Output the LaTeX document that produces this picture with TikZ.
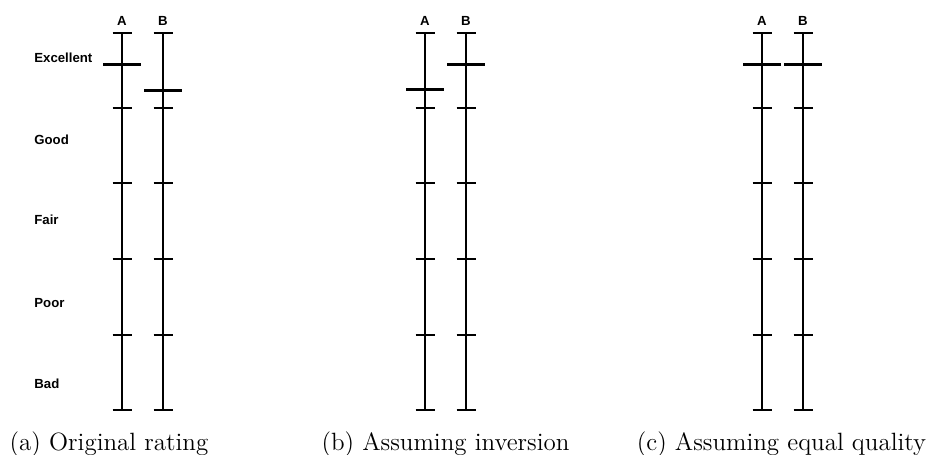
\documentclass[tikz,border=0pt]{standalone}
\usepackage{fontspec}
\newfontfamily\lab{Liberation Sans}[Scale=1]
\tikzset{
  axisline/.style={line width=1pt},
  tickline/.style={line width=0.75pt},
  markline/.style={line width=1.5pt},
  lbl/.style={font=\lab\bfseries\fontsize{6.6}{7}\selectfont, inner sep=0pt},
  captext/.style={font=\fontsize{12.5}{14}\selectfont, inner sep=0pt, anchor=base}
}
\begin{document}
\begin{tikzpicture}[x=0.5pt,y=-0.5pt]
\useasboundingbox (0,0) rectangle (928,455);
% rating labels
\node[lbl,anchor=west] (lexc) at (34,58) {Excellent};
\node[lbl,anchor=west] (lgood) at (34,140) {Good};
\node[lbl,anchor=west] (lfair) at (34,220) {Fair};
\node[lbl,anchor=west] (lpoor) at (34,303) {Poor};
\node[lbl,anchor=west] (lbad) at (34,384) {Bad};
% axes
\foreach \x/\nm in {122/aA,163/aB,425/bA,466/bB,762/cA,803/cB}{
  \draw[axisline] (\x,33) -- (\x,410);
  \foreach \y in {33,108,183,259,335,410}{
    \draw[tickline] (\x-9.5,\y) -- (\x+9.5,\y);
  }
}
% axis names
\foreach \x/\t/\nm in {122/A/nA1,163/B/nB1,425/A/nA2,466/B/nB2,762/A/nA3,803/B/nB3}{
  \node[lbl] (\nm) at (\x,21) {\t};
}
% rating markers
\foreach \x/\y in {122/64,163/90,425/89,466/64,762/64,803/64}{
  \draw[markline] (\x-19,\y) -- (\x+19,\y);
}
% captions
\node[captext] (capa) at (109,450) {(a) Original rating};
\node[captext] (capb) at (445.5,450) {(b) Assuming inversion};
\node[captext] (capc) at (781.5,450) {(c) Assuming equal quality};
\end{tikzpicture}
\end{document}
